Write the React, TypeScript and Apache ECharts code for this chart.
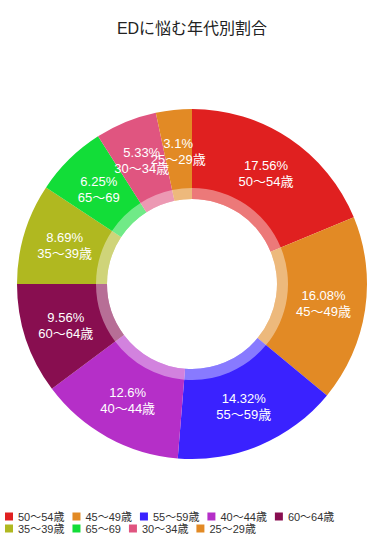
import React, { useEffect, useRef } from "react";
import * as echarts from "echarts";

const categories = ["50〜54歳", "45〜49歳", "55〜59歳", "40〜44歳", "60〜64歳", "35〜39歳", "65〜69", "30〜34歳", "25〜29歳"];
const values = [17.56, 16.08, 14.32, 12.6, 9.56, 8.69, 6.25, 5.33, 3.1];
const colors = ["#E02020", "#E28A25", "#3A22FF", "#B52FC8", "#880E50", "#B0B820", "#12DD38", "#E05580", "#E28A25"];
const titleText = "EDに悩む年代別割合";

export default function App() {
  const ref = useRef<HTMLDivElement>(null);
  useEffect(() => {
    document.body.style.margin = "0";
    const chart = echarts.init(ref.current!, null, { renderer: "svg" });
    const font = "'Liberation Sans', 'Noto Sans CJK JP', sans-serif";
    const legendCommon = {
      left: 5,
      orient: "horizontal" as const,
      itemWidth: 8,
      itemHeight: 8,
      itemGap: 8,
      icon: "rect",
      padding: 0,
      textStyle: { fontSize: 11, lineHeight: 11, color: "#333", fontFamily: font },
    };
    chart.setOption({
      animation: false,
      color: colors,
      textStyle: { fontFamily: font },
      title: {
        text: titleText,
        left: "center",
        top: 15,
        textStyle: { fontSize: 16, fontWeight: "normal", color: "#222", fontFamily: font },
      },
      legend: [
        { ...legendCommon, top: 511, data: categories.slice(0, 5) },
        { ...legendCommon, top: 523, data: categories.slice(5) },
      ],
      series: [
        {
          type: "pie",
          center: [192, 284],
          radius: [85, 175],
          startAngle: 90,
          labelLayout: { hideOverlap: false },
          avoidLabelOverlap: false,
          label: {
            show: true,
            position: "inside",
            color: "#fff",
            fontSize: 13,
            lineHeight: 16,
            fontFamily: font,
            formatter: (p: any) => `${p.value}%\n${p.name}`,
          },
          labelLine: { show: false },
          itemStyle: { borderWidth: 0 },
          data: categories.map((c, i) => ({ name: c, value: values[i], itemStyle: { color: colors[i] } })),
        },
        {
          type: "pie",
          silent: true,
          center: [192, 284],
          radius: [85, 96],
          startAngle: 90,
          label: { show: false },
          labelLine: { show: false },
          itemStyle: { color: "rgba(255,255,255,0.4)", borderWidth: 0 },
          data: values.map((v) => ({ value: v })),
        },
      ],
    });
    return () => chart.dispose();
  }, []);
  return <div ref={ref} style={{ width: 384, height: 540 }} />;
}
